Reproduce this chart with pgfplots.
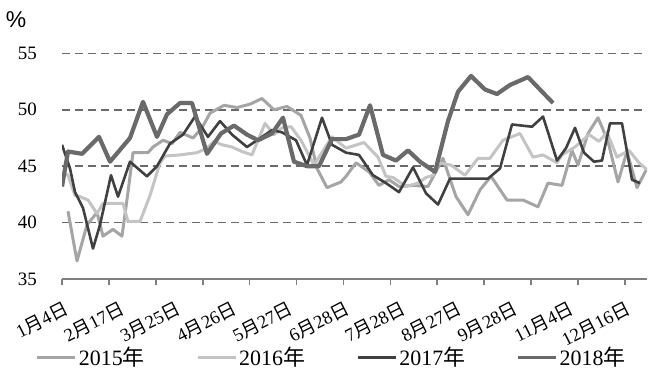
\documentclass[border=0pt]{standalone}
\usepackage{pgfplots}
\pgfplotsset{compat=1.18}
\usepackage{fontspec}
\setmainfont{Liberation Serif}
\newfontfamily\cjk{Noto Sans CJK SC}
\newfontfamily\pctfont{Liberation Sans}
\newcommand{\yue}{{\cjk 月}}
\newcommand{\ri}{{\cjk 日}}
\newcommand{\nian}{{\cjk 年}}
\definecolor{c15}{HTML}{A5A5A5}
\definecolor{c16}{HTML}{C4C4C4}
\definecolor{c17}{HTML}{404040}
\definecolor{c18}{HTML}{6A6A6A}
\definecolor{gridc}{HTML}{6A6A6A}
\definecolor{axc}{HTML}{7F7F7F}
\begin{document}
\begin{tikzpicture}
\path[use as bounding box] (0,0) rectangle (662bp,376bp);
\begin{axis}[
 at={(62bp,97bp)}, anchor=south west,
 x=1bp, y=11.28bp,
 xmin=62, xmax=647, ymin=35, ymax=55,
 axis x line*=bottom, axis y line*=left,
 x axis line style={draw=axc, line width=1.8bp, -},
 y axis line style={draw=none},
 ytick={35,40,45,50,55},
 ytick style={draw=none},
 ymajorgrids,
 grid style={draw=gridc, line width=1.6bp, dash pattern=on 8bp off 5bp},
 xtick={62,108.9,155.8,202.7,249.6,296.5,343.4,390.3,437.2,484.1,531,577.9,624.8},
 xticklabels={},
 xtick align=outside,
 major tick length=6bp,
 xtick style={draw=axc, line width=1.6bp},
 extra x ticks={63,119.2,175.4,231.6,287.8,344,400.2,456.4,512.6,568.8,625},
 extra x tick labels={1\yue4\ri,2\yue17\ri,3\yue25\ri,4\yue26\ri,5\yue27\ri,6\yue28\ri,7\yue28\ri,8\yue27\ri,9\yue28\ri,11\yue4\ri,12\yue16\ri},
 extra x tick style={xtick style={draw=none}, grid=none},
 /pgf/number format/assume math mode=true,
 y tick label style={font=\fontsize{19}{19}\selectfont, anchor=east, inner sep=0pt, xshift=-25bp},
 x tick label style={font=\fontsize{18.5}{18.5}\selectfont, yshift=-15bp, rotate=27, anchor=north east, inner sep=0pt},
 ylabel={\pctfont\%},
 every axis y label/.style={at={(axis description cs:-0.0786,1.148)}, anchor=center, font=\fontsize{23}{23}\selectfont},
 legend columns=4,
 legend style={at={(axis description cs:0.461,-0.346)}, anchor=center, draw=none, fill=none, font=\fontsize{22}{22}\selectfont, /tikz/every even column/.append style={column sep=49.5bp}},
 legend image code/.code={\draw[#1, line width=3bp] (0bp,0bp) -- (38bp,0bp);},
 line join=round,
]
\addplot[c15, line width=3bp, no marks] coordinates {
(68,41.0) (77,36.6) (87,39.8) (97,40.9) (103,38.8) (113,39.4) (122,38.8) (128,42.7) (133,46.2) (148,46.2) (153,46.7) (163,47.3) (172,47.0) (180,48.0) (193,47.5) (202,48.4) (210,49.7) (224,50.4) (237,50.2) (250,50.5) (262,51.0) (274,50.0) (287,50.3) (301,49.5) (310,47.5) (317,44.8) (327,43.1) (341,43.6) (346,44.1) (356,45.3) (369,44.5) (379,43.3) (389,43.8) (399,43.2) (413,43.3) (428,43.2) (443,45.7) (456,42.3) (468,40.7) (480,42.9) (491,44.1) (507,42.0) (523,42.0) (538,41.4) (548,43.5) (562,43.3) (572,46.4) (578,45.1) (588,47.9) (598,49.3) (608,47.2) (618,43.6) (627,46.3) (637,43.1) (647,44.8)
};
\addlegendentry{2015\nian}
\addplot[c16, line width=3bp, no marks] coordinates {
(64,44.4) (68,44.2) (75,42.4) (80,42.3) (88,42.0) (97,40.8) (103,41.7) (123,41.7) (128,40.1) (140,40.1) (150,42.4) (160,45.3) (165,45.9) (180,46.0) (197,46.2) (207,46.6) (214,47.2) (222,46.9) (232,46.7) (242,46.3) (252,46.0) (265,48.8) (274,47.8) (282,48.4) (291,48.5) (301,47.3) (307,46.3) (314,45.1) (324,46.5) (332,47.6) (346,46.6) (364,47.1) (378,45.8) (386,44.1) (393,44.0) (406,43.2) (418,43.5) (426,44.0) (433,44.2) (438,45.3) (451,45.1) (465,44.2) (478,45.7) (490,45.7) (503,47.3) (520,47.9) (533,45.8) (543,46.0) (557,45.3) (562,46.0) (575,46.7) (589,47.8) (599,47.2) (607,48.0) (617,45.8) (629,46.4) (639,45.3) (647,44.7)
};
\addlegendentry{2016\nian}
\addplot[c17, line width=2.6bp, no marks] coordinates {
(62,46.9) (70,44.8) (75,42.7) (83,41.3) (93,37.7) (100,39.8) (111,44.2) (118,42.3) (130,45.4) (147,44.1) (157,45.0) (170,47.0) (183,47.8) (195,49.4) (208,47.6) (220,49.0) (232,47.8) (247,46.7) (262,47.6) (272,48.2) (282,48.0) (296,47.3) (307,45.1) (322,49.3) (332,46.9) (346,46.2) (359,46.0) (373,44.2) (386,43.5) (399,42.7) (413,44.9) (426,42.6) (438,41.6) (450,43.9) (488,43.9) (500,44.8) (512,48.7) (532,48.5) (543,49.4) (557,45.5) (566,46.6) (575,48.4) (584,46.2) (594,45.4) (602,45.5) (610,48.8) (622,48.8) (632,43.8) (640,43.5)
};
\addlegendentry{2017\nian}
\addplot[c18, line width=4.2bp, no marks] coordinates {
(62,43.2) (68,46.3) (82,46.1) (99,47.6) (110,45.4) (130,47.5) (143,50.7) (157,47.6) (167,49.6) (180,50.6) (192,50.6) (207,46.1) (221,47.9) (234,48.6) (247,47.8) (258,47.3) (272,47.9) (283,49.3) (294,45.4) (307,45.0) (319,45.0) (332,47.4) (346,47.4) (359,47.8) (370,50.4) (383,46.0) (396,45.5) (408,46.4) (420,45.4) (435,44.5) (448,49.0) (458,51.6) (471,53.0) (485,51.8) (497,51.4) (510,52.2) (528,52.9) (553,50.6)
};
\addlegendentry{2018\nian}
\end{axis}
\end{tikzpicture}
\end{document}
